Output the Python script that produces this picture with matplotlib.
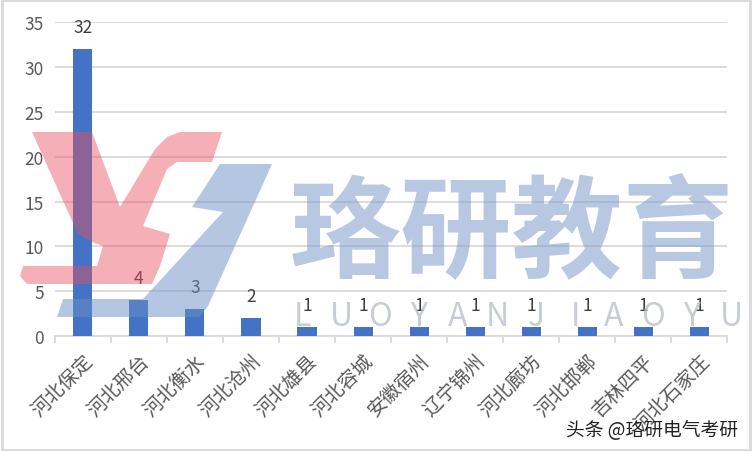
import numpy as np
import matplotlib.pyplot as plt
from matplotlib.patches import Polygon

plt.rcParams['font.family'] = ['Noto Sans CJK SC', 'DejaVu Sans']

cities = ["河北保定", "河北邢台", "河北衡水", "河北沧州", "河北雄县", "河北容城",
          "安徽宿州", "辽宁锦州", "河北廊坊", "河北邯郸", "吉林四平", "河北石家庄"]
counts = [32, 4, 3, 2, 1, 1, 1, 1, 1, 1, 1, 1]
yticks = [0, 5, 10, 15, 20, 25, 30, 35]

text_c = "#595959"
grid_c = "#D9D9D9"
W, H = 752, 452

fig = plt.figure(figsize=(7.52, 4.52), dpi=100)
ax = fig.add_axes([0.073, 0.254, 0.894, 0.695])

x = np.arange(len(cities))
ax.bar(x, counts, width=0.34, color="#4472C4", zorder=3)
for xi, v in zip(x, counts):
    ax.annotate(str(v), (xi, v), xytext=(0, 16), textcoords="offset points",
                ha="center", va="center", fontsize=12.5, color="#404040", zorder=4)

ax.set_xlim(-0.5, len(cities) - 0.5)
ax.set_ylim(0, 35)
ax.set_yticks(yticks)
ax.yaxis.grid(True, color=grid_c, lw=1.3, zorder=0)
ax.tick_params(axis="y", length=0, labelsize=12.5, labelcolor=text_c, pad=8)

ax.set_xticks(x)
ax.set_xticklabels(cities, rotation=45, ha="right", rotation_mode="anchor",
                   fontsize=14, color=text_c)
ax.set_xticks(np.arange(len(cities) + 1) - 0.5, minor=True)
ax.tick_params(axis="x", which="major", length=0, pad=10)
ax.tick_params(axis="x", which="minor", length=5, color=grid_c, width=1.3)

for s in ["top", "right", "left"]:
    ax.spines[s].set_visible(False)
ax.spines["bottom"].set_color(grid_c)
ax.spines["bottom"].set_linewidth(1.3)


# watermark logo, outlines given in pixels of the picture
def px_poly(pts, **kw):
    xy = [(px / W, 1 - py / H) for px, py in pts]
    fig.patches.append(Polygon(xy, closed=True, transform=fig.transFigure, lw=0, **kw))


red_pts = [(32, 133), (92, 133), (120, 208), (155, 150), (167, 138), (180, 133),
           (222, 133), (212, 163), (177, 163), (167, 170), (143, 227), (170, 235),
           (160, 267), (152, 285), (27, 285), (20, 277), (23, 267), (97, 267),
           (103, 247), (92, 243), (78, 235)]
blue_pts = [(220, 165), (272, 165), (208, 307), (200, 318), (57, 318), (63, 300),
            (143, 300), (223, 213), (192, 208)]
px_poly(red_pts, facecolor="#E8505F", alpha=0.45, zorder=5)
px_poly(blue_pts, facecolor="#6B8FC7", alpha=0.5, zorder=5)

fig.text(0.681, 0.479, "珞研教育", fontsize=80, fontweight="bold", color="#7F9CCB",
         alpha=0.55, ha="center", va="center", zorder=6)
for i, ch in enumerate("LUOYANJIAOYU"):
    fig.text((302 + i * 39) / W, 0.298, ch, fontsize=23, fontweight="light",
             color="#B9C0CC", alpha=0.8, ha="center", va="center", zorder=6)

fig.text(0.982, 0.048, "头条 @珞研电气考研", fontsize=13.5, color="#222222",
         ha="right", va="center")

# outer frame
fig.patches.append(plt.Rectangle((0.002, 0.003), 0.996, 0.994, transform=fig.transFigure,
                                 fill=False, edgecolor="#D9D9D9", lw=2))

fig.savefig("out.png", dpi=100)
